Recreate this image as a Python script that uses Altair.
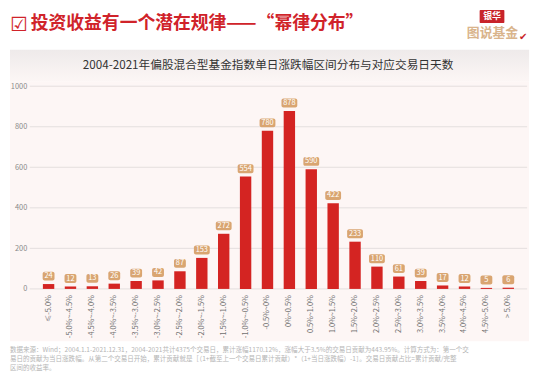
import altair as alt
import pandas as pd

categories = ["≤-5.0%", "-5.0%~-4.5%", "-4.5%~-4.0%", "-4.0%~-3.5%", "-3.5%~-3.0%",
              "-3.0%~-2.5%", "-2.5%~-2.0%", "-2.0%~-1.5%", "-1.5%~-1.0%", "-1.0%~-0.5%",
              "-0.5%~0%", "0%~0.5%", "0.5%~1.0%", "1.0%~1.5%", "1.5%~2.0%", "2.0%~2.5%",
              "2.5%~3.0%", "3.0%~3.5%", "3.5%~4.0%", "4.0%~4.5%", "4.5%~5.0%", "> 5.0%"]
days = [24, 12, 13, 26, 39, 42, 87, 153, 272, 554, 780, 878, 590, 422, 233, 110, 61, 39, 17, 12, 5, 6]
y_ticks = [0, 200, 400, 600, 800, 1000]

title_text = "投资收益有一个潜在规律——“幂律分布”"
subtitle_text = "2004-2021年偏股混合型基金指数单日涨跌幅区间分布与对应交易日天数"
note_lines = [
    "数据来源：Wind；2004.1.1-2021.12.31，2004-2021共计4375个交易日，累计涨幅1170.12%，涨幅大于3.5%的交易日贡献为443.95%。计算方式为：第一个交",
    "易日的贡献为当日涨跌幅。从第二个交易日开始，累计贡献就是［（1+截至上一个交易日累计贡献）*（1+当日涨跌幅）-1］。交易日贡献占比=累计贡献/完整",
    "区间的收益率。",
]

FONT = "Noto Sans CJK SC"
W, H = 503, 205

df = pd.DataFrame({"cat": categories, "days": days})
one = pd.DataFrame({"k": [0]})

xenc = alt.X("cat:N", sort=categories,
             scale=alt.Scale(paddingInner=0.48, paddingOuter=0.6),
             axis=alt.Axis(title=None, labelAngle=-90, labelFontSize=7.4, labelColor="#707070",
                           labelFont=FONT, domain=False, ticks=False, labelPadding=6, zindex=2))
yscale = alt.Scale(domain=[0, 1000])
yenc = alt.Y("days:Q", scale=yscale,
             axis=alt.Axis(title=None, values=y_ticks, format="d", labelFontSize=7.5,
                           labelColor="#8a8a8a", labelFont=FONT, domain=False, ticks=False,
                           grid=False, labelPadding=3, zindex=2))

# decorations
pink_bg = alt.Chart(one).mark_rect(fill="#fdf6f5").encode(
    x=alt.value(-20), x2=alt.value(505), y=alt.value(-5), y2=alt.value(258))
band = alt.Chart(one).mark_rect(
    fill=alt.Gradient(gradient="linear", x1=0, x2=0, y1=0, y2=1,
                      stops=[alt.GradientStop(color="#eeeaea", offset=0),
                             alt.GradientStop(color="#fcf6f5", offset=1)])).encode(
    x=alt.value(-20), x2=alt.value(505), y=alt.value(-37), y2=alt.value(-5))
subtitle = alt.Chart(one).mark_text(font=FONT, fontSize=11.8, color="#333333",
                                    align="center", baseline="middle").encode(
    x=alt.value(241), y=alt.value(-21), text=alt.value(subtitle_text))
title = alt.Chart(one).mark_text(font=FONT, fontSize=18, fontWeight="bold", color="#d0232a",
                                 align="left", baseline="middle").encode(
    x=alt.value(1), y=alt.value(-63), text=alt.value(title_text))
check = alt.Chart(one).mark_text(font="DejaVu Sans", fontSize=20, color="#d0232a",
                                 align="center", baseline="middle").encode(
    x=alt.value(-11), y=alt.value(-62), text=alt.value("☑"))
logo_tag = alt.Chart(one).mark_rect(fill="#c8232a", cornerRadius=1).encode(
    x=alt.value(455), x2=alt.value(480), y=alt.value(-77), y2=alt.value(-64))
logo_tag_t = alt.Chart(one).mark_text(font=FONT, fontSize=9, fontWeight="bold", color="white",
                                      align="center", baseline="middle").encode(
    x=alt.value(467.5), y=alt.value(-70.5), text=alt.value("银华"))
logo_main = alt.Chart(one).mark_text(font=FONT, fontSize=13, fontWeight="bold", color="#d9b48c",
                                     align="center", baseline="middle").encode(
    x=alt.value(468), y=alt.value(-54), text=alt.value("图说基金"))
logo_check = alt.Chart(one).mark_text(font="DejaVu Sans", fontSize=10, color="#c8232a",
                                      align="center", baseline="middle").encode(
    x=alt.value(499), y=alt.value(-50), text=alt.value("✔"))

notes = [
    alt.Chart(one).mark_text(font=FONT, fontSize=6.6, color="#b5b5b5", align="left",
                             baseline="middle").encode(
        x=alt.value(-20), y=alt.value(267 + 9 * i), text=alt.value(t))
    for i, t in enumerate(note_lines)
]

grid = alt.Chart(pd.DataFrame({"t": y_ticks})).mark_rule(color="#e4dfde", strokeWidth=1).encode(
    y=alt.Y("t:Q", scale=yscale), x=alt.value(0), x2=alt.value(W))

base = alt.Chart(df)
bars = base.mark_bar(color="#d42422").encode(x=xenc, y=yenc)

lab_small = base.transform_filter("datum.days < 100").mark_bar(
    color="#d9a571", width=12, cornerRadius=2, yOffset=-3.5, y2Offset=-12.5).encode(
    x=alt.X("cat:N", sort=categories), y=alt.Y("days:Q", scale=yscale), y2="days:Q")
lab_big = base.transform_filter("datum.days >= 100").mark_bar(
    color="#d9a571", width=16, cornerRadius=2, yOffset=-3.5, y2Offset=-12.5).encode(
    x=alt.X("cat:N", sort=categories), y=alt.Y("days:Q", scale=yscale), y2="days:Q")
lab_text = base.mark_text(font=FONT, fontSize=7.5, color="white", dy=-8,
                          baseline="middle", align="center").encode(
    x=alt.X("cat:N", sort=categories), y=alt.Y("days:Q", scale=yscale), text="days:Q")

chart = alt.layer(
    pink_bg, band, subtitle, title, check, logo_tag, logo_tag_t, logo_main, logo_check,
    *notes, grid, bars, lab_small, lab_big, lab_text
).properties(
    width=W, height=H,
    padding={"left": 22, "top": 77, "right": 10, "bottom": 88},
    autosize=alt.AutoSizeParams(type="none"),
    background="white",
).configure_view(strokeWidth=0)

chart.save("out.html", embed_options={"renderer": "svg", "actions": False})
